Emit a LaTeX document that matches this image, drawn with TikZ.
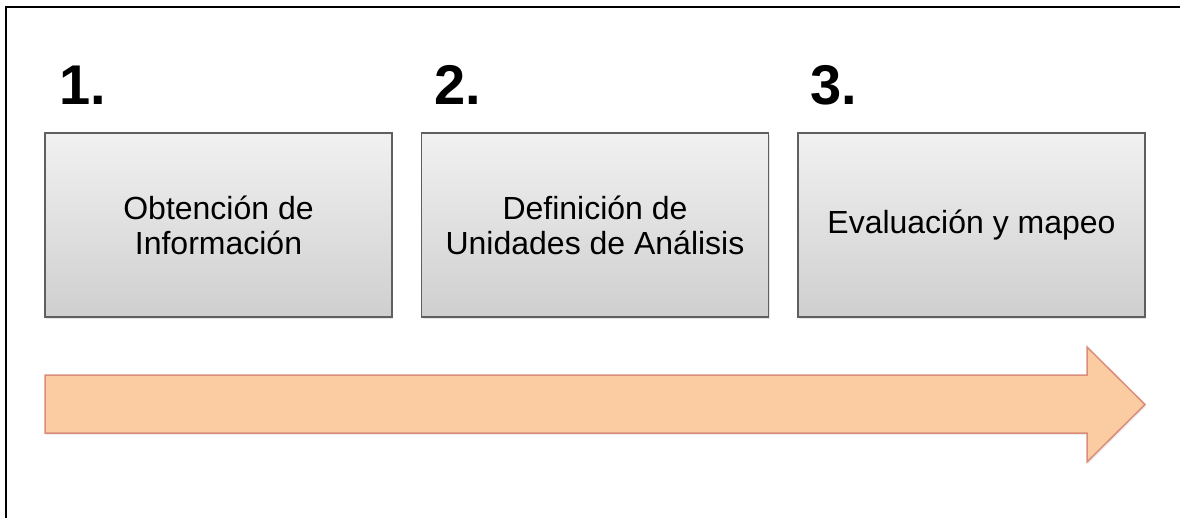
\documentclass[tikz,border=0pt]{standalone}
\usepackage{fontspec}
\setmainfont{Liberation Sans}
\usetikzlibrary{shadows}
\definecolor{boxtop}{RGB}{241,241,241}
\definecolor{boxbottom}{RGB}{207,207,207}
\definecolor{boxline}{RGB}{95,95,95}
\definecolor{arrowfill}{RGB}{251,203,161}
\definecolor{arrowline}{RGB}{219,141,124}
\tikzset{
  stepbox/.style={draw=boxline, line width=1.5pt, top color=boxtop, bottom color=boxbottom,
    minimum width=347pt, minimum height=184pt, inner sep=0pt, align=center,
    font=\fontsize{32}{35}\selectfont,
    drop shadow={opacity=0.2, shadow xshift=1pt, shadow yshift=-2pt}},
  stepnum/.style={anchor=base west, inner sep=0pt, font=\fontsize{56}{60}\selectfont\bfseries}
}
\begin{document}
\begin{tikzpicture}[x=1pt,y=-1pt]
\useasboundingbox (0,0) rectangle (1180,518);
% frame
\draw[line width=2.5pt] (6,518) -- (6,7) -- (1180,7);
% numbers
\node[stepnum] (n1) at (59,105) {1.};
\node[stepnum] (n2) at (434,105) {2.};
\node[stepnum] (n3) at (810,105) {3.};
% steps
\node[stepbox] (s1) at (218.5,225) {Obtención de\\Información};
\node[stepbox] (s2) at (595,225) {Definición de\\Unidades de Análisis};
\node[stepbox] (s3) at (971.5,225) {Evaluación y mapeo};
% big arrow
\draw[draw=arrowline, line width=1.5pt, fill=arrowfill,
  drop shadow={opacity=0.15, shadow xshift=1pt, shadow yshift=-2pt}]
  (45,375) -- (1087,375) -- (1087,347) -- (1145,404.5) -- (1087,462) -- (1087,433) -- (45,433) -- cycle;
\end{tikzpicture}
\end{document}
